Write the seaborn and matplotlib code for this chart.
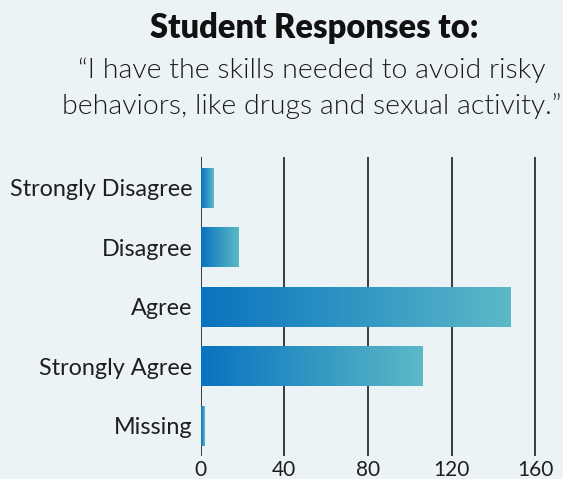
import numpy as np
import pandas as pd
import matplotlib
matplotlib.use("Agg")
import matplotlib.pyplot as plt
from matplotlib.colors import LinearSegmentedColormap
import seaborn as sns

categories = ["Strongly Disagree", "Disagree", "Agree", "Strongly Agree", "Missing"]
counts = [6, 18, 148, 106, 1.5]
xticks = [0, 40, 80, 120, 160]

title = "Student Responses to:"
subtitle = "\u201cI have the skills needed to avoid risky\nbehaviors, like drugs and sexual activity.\u201d"

bg = "#ecf3f6"
sns.set_theme(style="white")
plt.rcParams["font.family"] = ["Lato", "DejaVu Sans"]

df = pd.DataFrame({"category": categories, "count": counts})

fig = plt.figure(figsize=(5.63, 4.79), dpi=100, facecolor=bg)
ax = fig.add_axes([200.5 / 563, 1 - 456 / 479, (550 - 200.5) / 563, (456 - 157) / 479])
ax.set_facecolor(bg)

sns.barplot(data=df, x="count", y="category", orient="h", ax=ax, width=0.67,
            color="#0a78c0", zorder=3)

cmap = LinearSegmentedColormap.from_list("g", ["#0873bf", "#5cb9c7"])
grad = np.linspace(0, 1, 256).reshape(1, -1)
for p in ax.patches:
    x0, y0 = p.get_x(), p.get_y()
    w, h = p.get_width(), p.get_height()
    p.set_facecolor("none")
    p.set_edgecolor("none")
    ax.imshow(grad, cmap=cmap, aspect="auto", extent=[x0, x0 + w, y0 + h, y0],
              zorder=3, interpolation="bilinear")

ax.set_xlim(0, 167)
ax.set_ylim(4.51, -0.52)
ax.set_xticks(xticks)
ax.set_xticklabels([str(v) for v in xticks])
ax.set_xlabel("")
ax.set_ylabel("")
for s in ax.spines.values():
    s.set_visible(False)
for v in xticks:
    ax.axvline(v, color="#3a3a3a", lw=1.4, zorder=2)
ax.tick_params(axis="both", length=0, labelcolor="#1e1e1e")
ax.tick_params(axis="x", pad=3, labelsize=15)
ax.tick_params(axis="y", pad=6, labelsize=16.8)

fig.text(314 / 563, 1 - 28 / 479, title, ha="center", va="center",
         fontsize=23.5, fontweight="heavy", color="#111111")
fig.text(312 / 563, 1 - 88 / 479, subtitle, ha="center", va="center",
         fontsize=20.5, fontweight=300, color="#1a1a1a", linespacing=1.5)

fig.savefig("out.png", dpi=100, facecolor=bg)
